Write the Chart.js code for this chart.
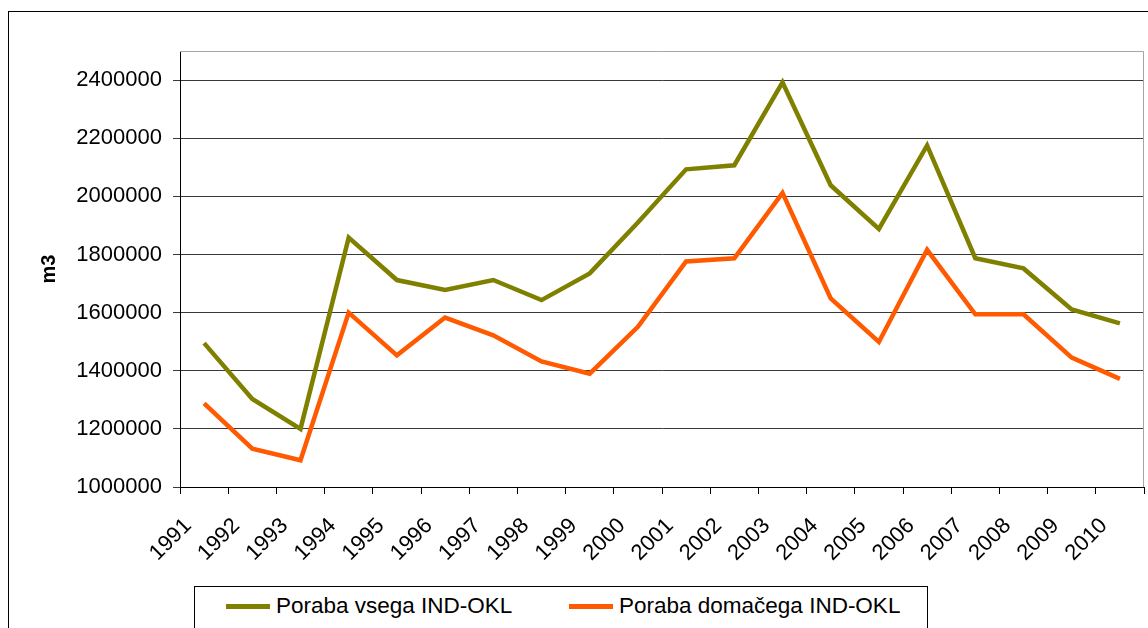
<!DOCTYPE html>
<html>
<head>
<meta charset="utf-8">
<script src="https://cdn.jsdelivr.net/npm/chart.js@4.4.1/dist/chart.umd.min.js"></script>
<style>
    body { margin: 0; background: #fff; width: 1148px; height: 628px; overflow: hidden; position: relative;
           font-family: "Liberation Sans", Arial, sans-serif; }
    #frame { position: absolute; left: 8px; top: 11px; width: 1300px; height: 800px; border: 1px solid #000; }
    #chart { position: absolute; left: 0; top: 0; }
    #legend { position: absolute; left: 194px; top: 586px; width: 734px; height: 80px; border: 1px solid #000;
              box-sizing: border-box; background: #fff; }
    .item { position: absolute; top: 6px; height: 26px; display: flex; align-items: center; font-size: 22.5px; color: #000; }
    .swatch { width: 44px; height: 5px; margin-right: 6px; }
</style>
</head>
<body>
<div id="frame"></div>
<canvas id="chart" width="1148" height="628"></canvas>
<div id="legend"></div>
<script>
// categories and series (m3)
const years = ['1991', '1992', '1993', '1994', '1995', '1996', '1997', '1998', '1999', '2000',
               '2001', '2002', '2003', '2004', '2005', '2006', '2007', '2008', '2009', '2010'];
const porabaVsega = [1495000, 1303000, 1200000, 1858000, 1712000, 1678000, 1712000, 1643000, 1735000, 1910000,
                     2093000, 2107000, 2392000, 2038000, 1888000, 2175000, 1787000, 1752000, 1611000, 1563000];
const porabaDomacega = [1288000, 1132000, 1092000, 1600000, 1453000, 1583000, 1522000, 1432000, 1390000, 1551000,
                        1776000, 1787000, 2012000, 1649000, 1499000, 1816000, 1594000, 1594000, 1445000, 1372000];
const yTickValues = [1000000, 1200000, 1400000, 1600000, 1800000, 2000000, 2200000, 2400000];
const seriesNames = ['Poraba vsega IND-OKL', 'Poraba domačega IND-OKL'];
const seriesColors = ['#808000', '#ff5a00'];

const fontFamily = '"Liberation Sans", Arial, sans-serif';

// gray border on top and right of the plot area
const plotBorder = {
    id: 'plotBorder',
    afterDraw(chart) {
        const { ctx, chartArea: a } = chart;
        ctx.save();
        ctx.strokeStyle = '#a6a6a6';
        ctx.lineWidth = 1;
        ctx.beginPath();
        ctx.moveTo(a.left, a.top + 0.5);
        ctx.lineTo(a.right - 0.5, a.top + 0.5);
        ctx.lineTo(a.right - 0.5, a.bottom);
        ctx.stroke();
        ctx.restore();
    }
};

const ctx = document.getElementById('chart').getContext('2d');
new Chart(ctx, {
    type: 'line',
    data: {
        labels: years,
        datasets: [
            {
                label: seriesNames[0],
                data: porabaVsega,
                borderColor: seriesColors[0],
                backgroundColor: seriesColors[0],
                borderWidth: 4.5,
                pointRadius: 0,
                tension: 0
            },
            {
                label: seriesNames[1],
                data: porabaDomacega,
                borderColor: seriesColors[1],
                backgroundColor: seriesColors[1],
                borderWidth: 4.5,
                pointRadius: 0,
                tension: 0
            }
        ]
    },
    options: {
        responsive: false,
        animation: false,
        layout: {
            padding: { top: 51, right: 4, left: 33, bottom: 0 }
        },
        plugins: {
            legend: { display: false },
            tooltip: { enabled: false }
        },
        scales: {
            x: {
                offset: true,
                grid: {
                    offset: true,
                    drawOnChartArea: false,
                    drawTicks: true,
                    tickLength: 7,
                    color: '#000'
                },
                border: { color: '#000', width: 1 },
                ticks: {
                    color: '#000',
                    maxRotation: 45,
                    minRotation: 45,
                    autoSkip: false,
                    labelOffset: -16,
                    padding: 19,
                    font: { family: fontFamily, size: 22 }
                },
                afterFit: scale => {
                    scale.height = 141;
                    scale.paddingLeft = 0;
                    scale.paddingRight = 0;
                }
            },
            y: {
                min: 1000000,
                max: 2500000,
                afterBuildTicks: scale => {
                    scale.ticks = yTickValues.map(v => ({ value: v }));
                },
                ticks: {
                    color: '#000',
                    padding: 11,
                    font: { family: fontFamily, size: 22 },
                    callback: value => String(value)
                },
                grid: {
                    color: '#3a3a3a',
                    tickLength: 7,
                    lineWidth: 1
                },
                border: { color: '#000', width: 1 },
                title: {
                    display: true,
                    text: 'm3',
                    color: '#000',
                    padding: { top: 4, bottom: 0 },
                    font: { family: fontFamily, size: 20, weight: 'bold' }
                },
                afterFit: scale => { scale.width = 147; }
            }
        }
    },
    plugins: [plotBorder]
});

// legend box under the chart
const legendEl = document.getElementById('legend');
const legendLeft = [31, 374];
seriesNames.forEach((name, i) => {
    const item = document.createElement('div');
    item.className = 'item';
    item.style.left = legendLeft[i] + 'px';
    item.innerHTML = '<span class="swatch" style="background:' + seriesColors[i] + '"></span><span>' + name + '</span>';
    legendEl.appendChild(item);
});
</script>
</body>
</html>
